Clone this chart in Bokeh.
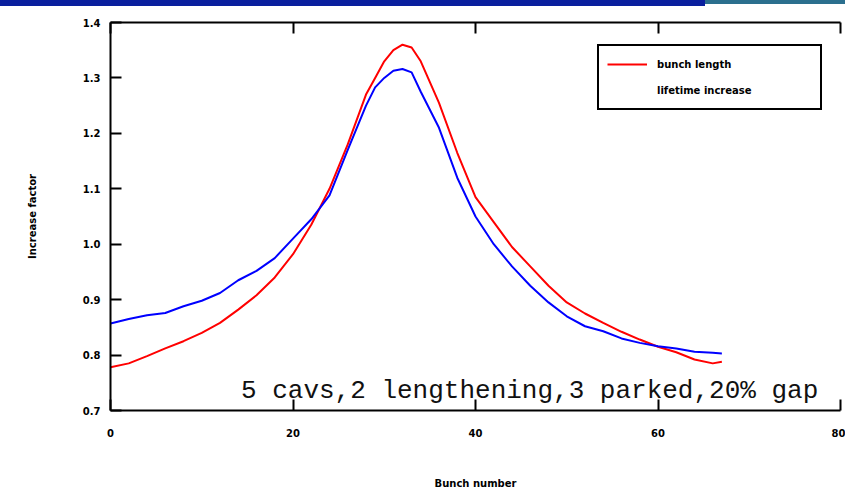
from bokeh.plotting import figure
from bokeh.models import (LinearAxis, Legend, LegendItem, Label, FixedTicker,
                          Range1d, Div, CustomJSTickFormatter)
from bokeh.layouts import column
from bokeh.embed import file_html
from bokeh.resources import INLINE

# ---- data ----
bunch = [0, 2, 4, 6, 8, 10, 12, 14, 16, 18, 20, 22, 24, 26, 28, 29, 30, 31, 32,
         33, 34, 36, 38, 40, 42, 44, 46, 48, 50, 52, 54, 56, 58, 60, 62, 64, 66, 67]
bunch_length = [0.778, 0.785, 0.798, 0.812, 0.825, 0.840, 0.858, 0.882, 0.908, 0.940,
                0.982, 1.035, 1.100, 1.180, 1.270, 1.300, 1.330, 1.350, 1.360,
                1.355, 1.330, 1.255, 1.165, 1.085, 1.040, 0.995, 0.960, 0.925, 0.895,
                0.875, 0.858, 0.842, 0.828, 0.815, 0.805, 0.792, 0.785, 0.788]
lifetime_increase = [0.857, 0.865, 0.872, 0.876, 0.888, 0.898, 0.912, 0.935, 0.952, 0.975,
                     1.010, 1.045, 1.088, 1.170, 1.250, 1.283, 1.300, 1.313, 1.316,
                     1.310, 1.275, 1.210, 1.120, 1.050, 1.000, 0.960, 0.925, 0.895, 0.870,
                     0.852, 0.843, 0.830, 0.822, 0.816, 0.812, 0.806, 0.804, 0.803]
x_ticks = [0, 20, 40, 60, 80]
y_ticks = [0.7, 0.8, 0.9, 1.0, 1.1, 1.2, 1.3, 1.4]
series_labels = ["bunch length", "lifetime increase"]
x_title = "Bunch number"
y_title = "Increase factor"
note = "5 cavs,2 lengthening,3 parked,20% gap"

p = figure(width=845, height=492, output_backend="svg", toolbar_location=None,
           x_range=Range1d(0, 80), y_range=Range1d(0.7, 1.4),
           x_axis_location=None, y_axis_location=None,
           min_border_left=110, min_border_top=22, min_border_right=5,
           min_border_bottom=82)
p.grid.visible = False
p.outline_line_color = None
p.background_fill_color = "white"
p.border_fill_color = "white"

lab_font = "DejaVu Sans"

bottom = LinearAxis(ticker=FixedTicker(ticks=x_ticks), axis_label=x_title)
left = LinearAxis(ticker=FixedTicker(ticks=y_ticks), axis_label=y_title,
                  formatter=CustomJSTickFormatter(code="return tick.toFixed(1);"))
top = LinearAxis(ticker=FixedTicker(ticks=x_ticks),
                 formatter=CustomJSTickFormatter(code="return '';"))
for ax in (bottom, left, top):
    ax.axis_line_color = "black"
    ax.axis_line_width = 2
    ax.major_tick_line_color = "black"
    ax.major_tick_line_width = 2
    ax.major_tick_in = 11
    ax.major_tick_out = 0
    ax.minor_tick_line_color = None
    ax.major_label_text_font = lab_font
    ax.major_label_text_font_style = "bold"
    ax.major_label_text_font_size = "10px"
    ax.major_label_text_color = "black"
    ax.axis_label_text_font = lab_font
    ax.axis_label_text_font_style = "bold"
    ax.axis_label_text_font_size = "10px"
    ax.axis_label_text_color = "black"
bottom.major_label_standoff = 18
bottom.axis_label_standoff = 38
left.major_label_standoff = 10
left.axis_label_standoff = 42
top.major_label_standoff = 0
p.add_layout(bottom, "below")
p.add_layout(left, "left")
p.add_layout(top, "above")

r1 = p.line(bunch, bunch_length, line_color="#ff0000", line_width=2)
r2 = p.line(bunch, lifetime_increase, line_color="#0000ff", line_width=2)
r_dummy = p.line([], [], line_color="#0000ff", line_alpha=0)

legend = Legend(items=[LegendItem(label=series_labels[0], renderers=[r1]),
                       LegendItem(label=series_labels[1], renderers=[r_dummy])],
                location=(487, 300))
legend.border_line_color = "black"
legend.border_line_width = 2
legend.border_line_alpha = 1
legend.background_fill_color = "white"
legend.label_text_font = lab_font
legend.label_text_font_style = "bold"
legend.label_text_font_size = "10px"
legend.label_text_color = "black"
legend.glyph_width = 40
legend.glyph_height = 20
legend.label_standoff = 10
legend.label_width = 155
legend.spacing = 6
legend.padding = 8
legend.margin = 0
p.add_layout(legend, "center")

p.add_layout(Label(x=14.3, y=0.736, text=note, text_font="Liberation Mono",
                   text_font_size="26px", text_color="#111111",
                   text_baseline="alphabetic"))

bar = Div(text='<div style="position:fixed;top:0;left:0;width:705px;height:6px;'
               'background:#0a1f9e;z-index:1000;"></div>'
               '<div style="position:fixed;top:0;left:705px;width:140px;height:4px;'
               'background:#2b6f8e;z-index:1000;"></div>',
          width=1, height=0, margin=0)

layout = column(bar, p, spacing=0)
open("out.html", "w").write(file_html(layout, INLINE))
